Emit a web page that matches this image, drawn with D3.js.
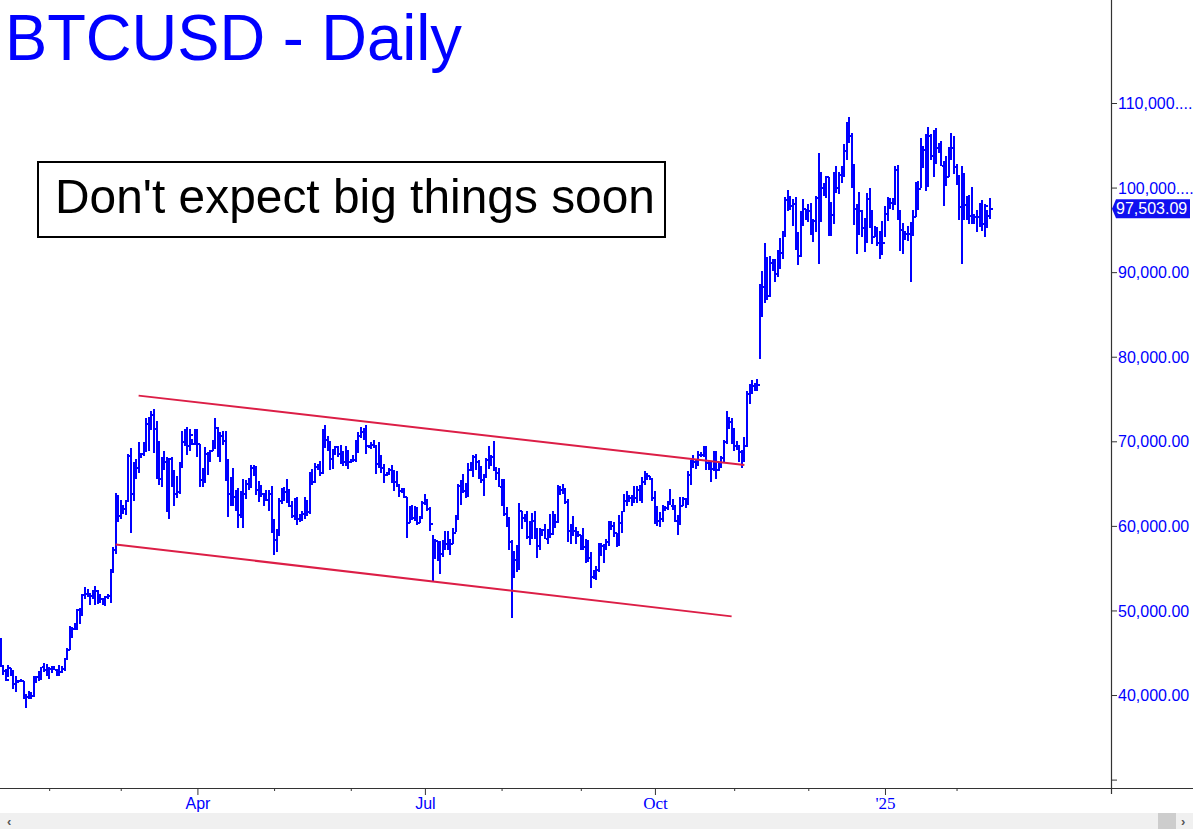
<!DOCTYPE html>
<html><head><meta charset="utf-8">
<script src="https://cdn.jsdelivr.net/npm/d3@7"></script>
<style>
html,body{margin:0;padding:0;background:#fff;overflow:hidden}
svg{display:block}
</style></head><body>
<svg id="c" width="1193" height="829"></svg>
<script>
// ---------------- DATA ----------------
const title = "BTCUSD - Daily";
const note = "Don't expect big things soon";
const startDate = "2024-01-12";
const endDate = "2025-02-14";
// days with no bar in the feed (US market holidays)
const missingDates = ["2024-01-15","2024-02-19","2024-03-29","2024-05-27","2024-06-19","2024-07-04",
  "2024-09-02","2024-11-28","2024-12-25","2025-01-01","2025-01-09","2025-01-20"];
// daily highs / lows / closes, in thousands of USD (one row per month)
const highs = [
 46.7,43.3,43.1,43.6,43.2,42.9,42.2,41.8,41.9,41.7,40.1,40.5,40.3,42.2,42.2,42.8,43.3,43.8,43.7,
 43.3,43.4,43.4,43.1,43.5,43.4,44.4,45.6,48.2,48.1,48.5,50.2,50.3,52.0,52.8,52.5,52.0,52.4,52.9,52.4,52.0,51.5,51.7,51.9,54.9,57.5,63.9,63.7,
 63.1,62.4,63.1,68.5,69.2,67.6,67.9,69.9,68.6,69.9,72.8,72.9,73.6,73.8,72.4,70.0,68.2,68.9,68.1,68.0,68.2,66.6,65.9,67.6,71.2,71.5,71.7,71.5,70.3,71.4,
 71.3,69.7,66.9,69.3,68.7,69.0,70.2,72.7,71.7,71.1,71.2,71.2,67.9,65.8,66.9,64.3,64.5,64.1,65.5,65.4,65.7,67.2,67.2,67.1,65.3,64.8,63.9,64.3,64.2,64.7,
 60.8,59.6,63.3,64.5,64.6,65.5,64.4,62.9,63.3,63.4,61.4,61.8,63.4,63.1,66.4,66.7,67.4,67.3,67.7,71.5,71.9,70.6,70.0,69.1,69.5,69.5,69.6,68.9,69.5,69.0,
 67.9,68.4,70.2,71.1,71.7,71.6,71.9,69.6,69.9,70.1,69.6,69.9,68.4,67.3,66.4,66.9,67.2,66.5,66.5,65.0,64.5,64.5,63.4,62.3,62.5,62.3,62.2,61.2,63.0,
 63.8,63.2,62.2,58.9,58.5,58.2,58.2,58.3,59.4,59.4,58.5,59.8,61.3,64.9,65.4,66.1,65.1,67.4,67.6,68.4,68.5,67.8,67.1,66.1,68.0,69.4,68.3,70.0,66.9,66.8,
 65.6,65.5,62.2,61.1,58.3,57.0,57.7,62.7,61.7,61.4,61.8,60.6,61.5,61.7,59.8,59.8,59.6,60.2,59.6,61.4,61.8,61.4,64.8,64.5,65.0,64.5,63.2,60.2,61.2,59.9,59.4,
 58.9,59.8,58.5,58.3,56.9,54.8,55.3,58.0,58.0,57.9,58.5,60.6,60.6,60.4,59.2,61.3,61.8,63.8,64.1,63.6,63.7,64.7,64.7,64.8,65.8,66.5,66.3,65.9,65.6,
 64.1,62.4,61.6,62.5,62.3,62.9,64.4,63.2,62.5,61.3,63.4,63.4,63.3,66.5,67.8,68.4,67.9,68.9,68.7,69.4,69.5,67.8,67.4,68.8,68.8,67.5,68.3,70.2,73.6,72.9,72.7,
 71.6,70.0,69.4,69.0,70.5,76.0,76.8,77.2,76.9,77.4,88.6,90.1,93.4,91.8,91.9,91.5,91.5,92.6,94.0,94.9,98.9,99.7,98.8,98.6,98.9,94.7,97.2,98.7,97.5,
 98.0,98.2,96.3,99.0,104.1,101.9,100.5,101.4,101.2,98.3,101.9,102.5,101.9,102.6,105.2,107.8,108.4,106.5,102.8,98.1,99.5,97.4,96.4,99.4,99.9,97.3,95.5,95.2,94.9,96.1,
 97.8,98.9,98.8,98.8,102.5,102.7,97.3,95.8,94.9,95.4,95.9,97.3,100.7,100.8,105.9,104.9,106.3,107.2,106.3,106.8,107.1,105.3,105.5,103.2,103.7,104.8,106.5,106.1,
 102.8,101.5,102.5,101.7,99.0,99.1,100.1,96.9,97.3,98.2,98.5,98.1,97.3,98.8
];
const lows = [
 43.3,42.4,41.7,42.1,42.2,40.7,40.3,41.4,41.5,39.5,38.5,39.5,39.5,39.8,41.4,41.6,41.8,42.7,42.3,
 41.9,42.6,42.9,42.2,42.3,42.6,42.8,44.3,45.3,46.8,47.7,47.7,48.4,49.3,51.3,51.6,50.7,51.4,50.7,50.8,50.9,50.6,50.6,51.3,50.9,54.5,56.7,60.4,
 60.8,61.4,61.3,62.8,59.2,62.9,65.6,66.2,68.0,68.3,68.7,68.8,71.4,68.6,65.6,64.8,64.6,66.6,61.6,60.8,64.6,62.3,63.3,63.8,66.9,69.5,68.4,68.9,69.6,69.6,
 68.2,64.6,64.6,65.1,66.0,67.5,68.8,69.1,68.2,67.5,69.6,65.3,61.0,62.3,62.3,61.8,59.8,60.9,59.7,63.2,64.3,64.5,65.9,63.6,62.8,63.4,62.4,63.0,61.8,59.1,
 56.6,56.9,58.8,62.6,62.9,62.7,62.2,60.9,60.7,60.1,60.5,60.6,60.8,61.2,61.4,64.8,65.1,66.6,65.9,66.1,69.2,68.9,66.6,66.7,68.5,68.2,67.3,67.1,67.1,66.7,
 67.4,67.5,67.6,68.6,70.4,70.2,68.5,69.2,69.1,69.2,66.1,66.9,66.3,65.1,65.9,66.0,65.1,64.1,64.6,63.4,63.9,63.3,58.6,60.3,60.7,60.6,60.1,60.3,60.8,
 62.5,61.8,59.4,53.5,56.1,55.8,54.3,56.3,57.2,57.1,56.6,57.8,59.3,60.7,62.5,63.9,63.3,63.4,66.5,65.8,66.6,65.5,65.1,63.5,65.8,66.7,67.1,66.5,65.4,64.6,
 62.3,61.2,59.9,57.2,49.1,54.0,54.6,54.8,59.6,60.4,58.4,57.7,58.5,58.4,56.2,57.1,58.8,58.4,57.9,58.6,58.9,59.8,60.3,63.6,63.8,62.6,58.1,57.9,58.8,57.8,58.7,
 57.2,57.4,55.6,55.7,52.6,53.7,53.6,54.6,56.4,55.6,57.3,57.6,59.5,58.7,57.5,57.6,59.2,61.6,62.4,62.8,62.4,62.7,62.7,62.9,62.7,64.8,65.4,65.4,62.9,
 60.2,60.0,59.9,60.5,61.7,61.9,62.5,61.9,60.4,58.9,60.1,62.4,62.1,62.5,64.8,66.8,66.7,67.1,68.1,68.1,66.6,66.6,65.2,66.5,65.5,66.5,66.8,67.6,69.7,71.4,69.7,
 68.8,69.0,67.5,66.8,67.5,69.3,74.4,75.6,75.9,76.0,79.7,84.7,86.3,86.7,87.1,90.1,88.8,89.4,90.4,91.6,94.1,97.2,97.3,95.5,92.6,90.9,91.8,95.4,96.2,
 95.9,94.4,93.6,94.7,91.0,95.9,99.0,98.8,94.3,94.3,95.7,99.3,99.2,100.6,101.2,103.3,105.3,100.0,95.6,92.2,94.4,94.2,92.4,93.5,95.2,93.3,94.1,93.1,91.5,92.0,
 94.2,96.1,97.5,97.3,97.9,96.2,92.5,92.2,93.8,93.7,88.8,94.3,96.5,97.3,100.0,102.3,99.6,100.1,103.3,101.3,102.8,104.1,102.5,97.8,100.2,101.3,103.3,101.6,
 100.3,96.2,91.0,96.2,96.2,95.7,95.7,95.7,94.7,95.3,94.9,94.1,95.2,96.3
];
const closes = [
 43.4,42.8,41.8,43.2,42.6,41.3,41.6,41.7,41.6,39.5,39.8,40.1,39.9,41.8,42.1,42.0,43.3,43.0,42.6,
 43.1,43.2,43.0,42.6,42.7,43.1,44.3,45.3,47.1,47.8,48.3,50.0,49.7,51.8,52.0,51.9,51.7,52.1,52.3,51.8,51.3,50.7,51.6,51.7,54.5,57.1,62.5,61.2,
 62.4,62.0,63.1,68.3,63.8,66.1,66.9,68.3,68.5,69.0,72.1,71.5,73.1,71.4,69.5,65.5,68.0,67.6,61.9,67.9,65.5,63.8,64.0,67.2,69.9,69.9,69.4,70.7,69.7,71.3,
 69.7,65.4,65.9,68.5,67.8,68.9,69.4,71.6,69.1,70.6,70.0,67.1,63.8,65.7,63.4,63.8,61.3,63.5,63.8,64.9,64.9,66.8,66.4,64.3,64.5,63.8,63.4,63.1,63.8,60.6,
 58.3,59.1,62.9,63.9,64.0,63.2,62.3,61.2,63.1,60.8,60.8,61.4,62.9,61.6,66.3,65.2,67.0,66.9,66.3,71.4,70.1,69.1,67.9,68.5,69.3,68.5,68.4,67.6,68.4,67.5,
 67.8,67.8,68.8,70.6,71.1,70.8,69.4,69.3,69.6,69.5,67.3,68.2,66.8,66.0,66.2,66.6,66.5,65.2,64.8,64.1,64.2,63.4,60.3,61.8,60.9,61.6,60.3,60.9,62.7,
 62.9,62.0,60.2,56.7,58.2,55.9,56.7,58.0,57.9,57.7,57.9,59.2,60.8,64.7,65.1,64.1,63.9,66.6,67.2,68.2,67.6,65.9,65.4,65.8,67.8,68.3,68.2,66.8,66.2,64.6,
 65.4,61.4,60.7,58.1,54.0,56.0,55.0,61.7,60.9,60.9,58.7,59.4,60.6,58.7,57.6,58.9,59.5,58.5,59.4,59.0,61.2,60.4,64.6,64.2,64.2,62.8,59.4,59.0,59.4,59.1,58.9,
 57.3,57.5,58.0,56.2,53.9,54.2,54.8,57.0,57.6,57.3,58.1,60.5,60.0,59.1,58.2,60.3,61.7,62.9,63.2,63.3,63.6,63.3,64.3,63.1,65.2,65.8,65.9,65.6,63.3,
 60.8,60.6,60.8,62.1,62.1,62.8,62.3,62.1,60.6,60.3,62.4,63.2,62.9,66.0,67.0,67.6,67.4,68.4,68.4,69.0,67.4,67.4,66.7,68.2,66.6,67.0,68.0,69.9,72.7,72.3,70.2,
 69.5,69.4,68.7,67.8,69.4,75.6,75.9,76.5,76.7,76.6,87.9,88.2,90.6,87.2,91.1,90.6,89.8,90.5,92.3,94.3,98.5,98.9,97.8,98.0,93.1,91.9,95.9,97.5,96.4,
 97.2,95.8,96.0,98.8,96.6,99.9,99.9,101.2,97.4,96.7,101.2,100.0,101.5,101.4,104.3,106.0,106.1,100.0,97.5,97.8,97.2,95.2,94.9,98.7,95.8,94.2,95.2,93.5,92.6,93.4,
 96.9,98.1,98.2,98.3,102.1,96.9,95.0,94.7,94.5,94.5,94.5,96.5,100.5,99.8,104.5,104.4,101.1,106.1,103.7,104.0,104.7,104.7,102.6,102.1,101.3,103.7,104.7,102.4,
 100.7,97.7,101.4,97.9,96.6,96.6,96.6,96.5,96.5,97.4,95.7,97.8,96.6,97.5
];
const lastPrice = 97503.09;
const yTicks = [30, 40, 50, 60, 70, 80, 90, 100, 110];
const yTickLabels = ["", "40,000.00", "50,000.00", "60,000.00", "70,000.00", "80,000.00", "90,000.00", "100,000....", "110,000...."];
const monthStarts = ["2024-02-01","2024-03-01","2024-04-01","2024-05-01","2024-06-01","2024-07-01","2024-08-01",
  "2024-09-01","2024-10-01","2024-11-01","2024-12-01","2025-01-01","2025-02-01"];
const monthLabels = {"2024-04-01":"Apr","2024-07-01":"Jul","2024-10-01":"Oct","2025-01-01":"'25"};
const serifLabels = ["Oct","'25"];
// channel lines: [date, price (thousands)]
const upperChannel = [["2024-03-08", 75.4], ["2024-11-05", 67.2]];
const lowerChannel = [["2024-02-28", 57.8], ["2024-10-31", 49.3]];

// ---------------- BUILD ----------------
const fmt = d3.timeFormat("%Y-%m-%d");
const parse = d3.timeParse("%Y-%m-%d");
const missing = new Set(missingDates);
const dates = d3.timeDay.range(parse(startDate), d3.timeDay.offset(parse(endDate), 1))
  .map(fmt).filter(d => !missing.has(d));
const bars = dates.map((d, i) => ({date: d, i, h: highs[i], l: lows[i], c: closes[i]}))
  .filter(b => b.h !== undefined);
const idxOf = ds => dates.findIndex(d => d >= ds);

const W = 1193, H = 829;
const axisX = 1111, axisY = 788;
const x = d3.scaleLinear().domain([0, 100]).range([0.6, 0.6 + 255.6]);
const y = d3.scaleLinear().domain([30, 110]).range([779.6, 103]);

const svg = d3.select("#c");
svg.append("rect").attr("width", W).attr("height", H).attr("fill", "#fff");

svg.append("defs").append("clipPath").attr("id", "pc")
  .append("rect").attr("x", 0).attr("y", 0).attr("width", axisX).attr("height", axisY);
const plot = svg.append("g").attr("clip-path", "url(#pc)");

// bars (high-low with close tick on the right)
const blue = "#0000ff";
const bg = plot.append("g").attr("shape-rendering", "crispEdges").attr("fill", blue);
bg.selectAll("rect.v").data(bars).join("rect").attr("class", "v")
  .attr("x", b => Math.round(x(b.i)) - 1).attr("width", 2)
  .attr("y", b => Math.round(y(b.h))).attr("height", b => Math.max(2, Math.round(y(b.l)) - Math.round(y(b.h))));
bg.selectAll("rect.t").data(bars).join("rect").attr("class", "t")
  .attr("x", b => Math.round(x(b.i)) + 1).attr("width", 2)
  .attr("y", b => Math.round(y(b.c)) - 1).attr("height", 2);

// channel lines
const red = "#dc1e46";
const line = d3.line().x(p => x(idxOf(p[0]))).y(p => y(p[1]));
[upperChannel, lowerChannel].forEach(ch => {
  plot.append("path").attr("d", line(ch)).attr("fill", "none").attr("stroke", red).attr("stroke-width", 2);
});

// right axis
const yAxis = d3.axisRight(y).tickValues(yTicks).tickSize(6).tickPadding(2)
  .tickFormat((d, k) => yTickLabels[k]);
const ya = svg.append("g").attr("transform", `translate(${axisX},0)`).call(yAxis);
ya.select(".domain").remove();
ya.selectAll(".tick line").attr("stroke", "#333");
ya.selectAll(".tick text").attr("fill", blue).attr("font-family", "Arial, 'Liberation Sans', sans-serif")
  .attr("font-size", 16).attr("x", 7).attr("dy", "0.35em");
svg.append("line").attr("x1", axisX + 0.5).attr("x2", axisX + 0.5).attr("y1", 0).attr("y2", axisY + 6)
  .attr("stroke", "#333").attr("stroke-width", 1.2);

// last price marker
const lp = y(lastPrice / 1000);
const pm = svg.append("g");
pm.append("path").attr("d", `M${axisX + 1},${lp} L${axisX + 5},${lp - 9.5} L${1190},${lp - 9.5} L${1190},${lp + 9.5} L${axisX + 5},${lp + 9.5} Z`)
  .attr("fill", "#1010f0");
pm.append("text").attr("x", 1116).attr("y", lp).attr("dy", "0.35em").attr("fill", "#fff")
  .attr("font-family", "Arial, 'Liberation Sans', sans-serif").attr("font-size", 16)
  .text(d3.format(",.2f")(lastPrice));

// bottom axis
svg.append("line").attr("x1", 0).attr("x2", W).attr("y1", axisY + 0.5).attr("y2", axisY + 0.5)
  .attr("stroke", "#333").attr("stroke-width", 1.2);
const tickIdx = monthStarts.map(idxOf);
const xa = svg.append("g").attr("transform", `translate(0,${axisY})`)
  .call(d3.axisBottom(x).tickValues(tickIdx).tickSize(3).tickFormat(""));
xa.select(".domain").remove();
xa.selectAll(".tick line").attr("stroke", "#333");
xa.selectAll(".tick").each(function(d, k) {
  const lab = monthLabels[monthStarts[k]];
  if (lab) {
    const g = d3.select(this);
    g.select("line").attr("y2", 7);
    const serif = serifLabels.includes(lab);
    g.select("text").text(lab).attr("y", 0).attr("dy", 0).attr("transform", "translate(0,21)")
      .attr("fill", blue)
      .attr("font-family", serif ? "'Times New Roman', 'Liberation Serif', serif" : "Arial, 'Liberation Sans', sans-serif")
      .attr("font-size", serif ? 17 : 16);
  }
});

// scrollbar
svg.append("rect").attr("x", 0).attr("y", 813).attr("width", W).attr("height", 16).attr("fill", "#f0f0f0");
svg.append("rect").attr("x", 1158).attr("y", 813).attr("width", 18).attr("height", 16).attr("fill", "#cdcdcd");
svg.append("text").attr("x", 7).attr("y", 826).attr("fill", "#555").attr("font-family", "Arial, sans-serif")
  .attr("font-size", 13).attr("font-weight", "bold").text("‹");
svg.append("text").attr("x", 1181).attr("y", 826).attr("fill", "#555").attr("font-family", "Arial, sans-serif")
  .attr("font-size", 13).attr("font-weight", "bold").text("›");

// title
svg.append("text").attr("x", 5).attr("y", 60).attr("fill", blue)
  .attr("font-family", "Arial, 'Liberation Sans', sans-serif").attr("font-size", 65)
  .attr("textLength", 457).attr("lengthAdjust", "spacingAndGlyphs").text(title);

// note box
svg.append("rect").attr("x", 38).attr("y", 162).attr("width", 627).attr("height", 75)
  .attr("fill", "#fff").attr("stroke", "#000").attr("stroke-width", 2);
svg.append("text").attr("x", 55).attr("y", 213).attr("fill", "#000")
  .attr("font-family", "Arial, 'Liberation Sans', sans-serif").attr("font-size", 49)
  .attr("textLength", 600).attr("lengthAdjust", "spacingAndGlyphs").text(note);
</script>
</body></html>
